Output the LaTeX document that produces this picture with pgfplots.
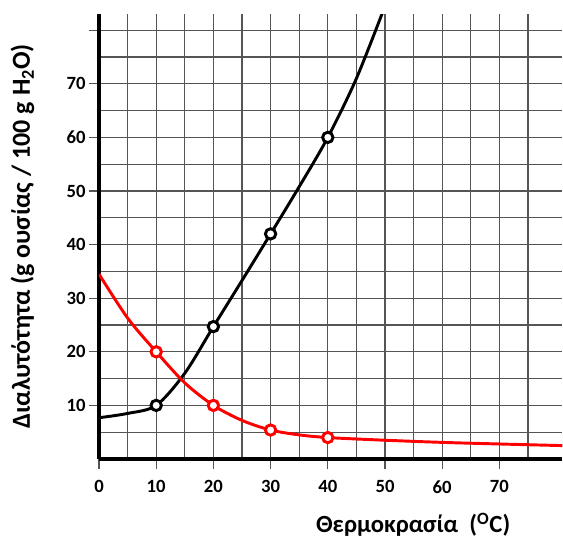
\documentclass[border=0pt]{standalone}
\usepackage{pgfplots}
\pgfplotsset{compat=1.18}
\usepackage{fontspec}
\setmainfont{Carlito}
\definecolor{gridc}{HTML}{555555}
\definecolor{solred}{HTML}{FF0000}

\begin{document}
\begin{tikzpicture}
\useasboundingbox (-74.25pt,-61.5pt) rectangle (348pt,344.25pt);
\begin{axis}[
  at={(0,0)}, anchor=origin,
  scale only axis, x=4.29pt, y=4.02pt,
  xmin=0, xmax=81, ymin=0, ymax=83,
  axis x line=bottom, axis y line=left,
  axis line style={black, line width=3.4pt, -},
  xtick={0,10,...,70}, minor xtick={5,15,...,80},
  ytick={10,20,...,80}, minor ytick={5,15,...,75},
  yticklabels={10,20,30,40,50,60,70,{}},
  grid=both,
  major grid style={gridc, line width=0.95pt},
  minor grid style={gridc, line width=0.95pt},
  tick align=outside, major tick length=7.5pt, minor tick length=0pt,
  tick style={gridc, line width=0.95pt},
  /pgf/number format/assume math mode=true,
  tick label style={font=\fontsize{14}{16}\selectfont\bfseries},
  xticklabel style={yshift=-5pt},
  yticklabel style={xshift=1pt},
  xlabel style={font=\fontsize{18.5}{21}\selectfont\bfseries},
  ylabel style={font=\fontsize{19.5}{22}\selectfont\bfseries},
  xlabel={Θερμοκρασία\ \ (\textsuperscript{O}C)},
  ylabel={Διαλυτότητα (g ουσίας / 100 g H\textsubscript{2}O)},
  xlabel style={at={(axis description cs:0.678,0)}, yshift=-49.5pt, anchor=center},
  ylabel style={at={(axis description cs:0,0.5)}, rotate=0, yshift=57.5pt, anchor=center},
  clip=true,
]
\addplot[black, line width=2.2pt, smooth, tension=0.5] coordinates {
  (0,7.7) (5,8.5) (10,10) (15,16) (20,24.7) (25,33.3) (30,42) (35,50.8) (40,60) (45,71) (50,84.5)};
\addplot[solred, line width=2.2pt, smooth, tension=0.5] coordinates {
  (0,34.5) (5,26.3) (10,20) (15,14.2) (20,10) (25,7.2) (30,5.4) (35,4.5) (40,4) (50,3.5) (60,3.1) (70,2.8) (81,2.5)};
\addplot[only marks, black, mark=*, mark size=3.9pt, mark options={fill=white, line width=2.2pt}] coordinates {
  (10,10) (20,24.7) (30,42) (40,60)};
\addplot[only marks, solred, mark=*, mark size=3.9pt, mark options={fill=white, line width=2.2pt}] coordinates {
  (10,20) (20,10) (30,5.4) (40,4)};
\end{axis}
\end{tikzpicture}
\end{document}
